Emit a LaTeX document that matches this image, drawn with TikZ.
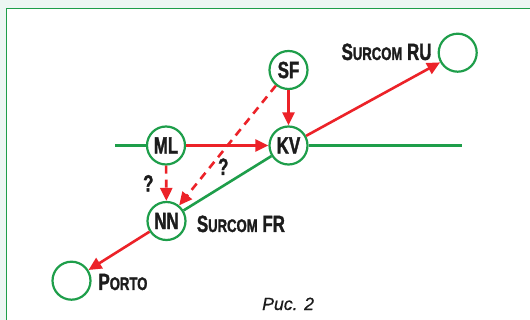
\documentclass[tikz,border=0pt]{standalone}
\usepackage{fontspec}
\usetikzlibrary{arrows.meta}
% condensed heavy face for the station labels
\newfontfamily\labfont[FakeStretch=0.72,FakeBold=1.4]{Liberation Sans}
\newfontfamily\capfont[FakeBold=0.6]{Liberation Sans}
\definecolor{netgreen}{RGB}{30,158,74}
\definecolor{netred}{RGB}{236,34,40}
\definecolor{pagebg}{RGB}{236,246,243}
\definecolor{ink}{RGB}{28,28,28}
% reduced capitals for the small-caps words
\newcommand\smc[1]{{\fontsize{18.2}{18.2}\selectfont #1}}
\begin{document}
\begin{tikzpicture}[x=1pt,y=-1pt,
  labtext/.style={font=\labfont\bfseries\fontsize{23.5}{23.5}\selectfont,text=ink},
  site/.style={circle,draw=netgreen,line width=2.2pt,fill=white,minimum size=38pt,inner sep=0pt,labtext},
  lbl/.style={inner sep=0pt,labtext},
  link/.style={draw=netgreen,line width=2.6pt},
  flow/.style={draw=netred,line width=2.6pt,-{Triangle[length=13pt,width=12pt]}},
  maybe/.style={flow,dash pattern=on 8pt off 6pt},
]
\useasboundingbox (0,0) rectangle (530,320);
% page background and framed panel
\fill[pagebg] (0,0) rectangle (530,320);
\draw[netgreen,line width=1.5pt,fill=white] (6.7,8.7) rectangle (545,335);

% stations
\node[site] (ML) at (166,145.5) {ML};
\node[site] (KV) at (288.5,145.5) {KV};
\node[site] (SF) at (288.5,70) {SF};
\node[site] (NN) at (166.5,221) {NN};
\node[site] (RU) at (457.7,52.7) {};
\node[site] (PO) at (71.5,280.7) {};
\coordinate (west) at (115,145.5);
\coordinate (east) at (461.7,145.5);

% green links
\draw[link] (west) -- (ML);
\draw[link] (KV) -- (east);
\draw[link] (NN) -- (KV);

% red flows
\draw[flow] (ML) -- (KV);
\draw[flow] (SF) -- (KV);
\draw[flow] (KV) -- (RU);
\draw[flow] (NN) -- (PO);
\draw[maybe] (ML) -- (NN);
\draw[maybe] (SF) -- (NN);

% labels
\node[lbl,anchor=base east] (lRU) at (431.7,60) {S\smc{URCOM} RU};
\node[lbl,anchor=base west] (lFR) at (196.7,232) {S\smc{URCOM} FR};
\node[lbl,anchor=base west] (lPO) at (98.3,290) {P\smc{ORTO}};
\node[lbl] (q1) at (148.3,183.3) {?};
\node[lbl] (q2) at (223.3,166.7) {?};
\node[inner sep=0pt,anchor=base west,text=ink,font=\capfont\itshape\fontsize{17.7}{17.7}\selectfont] (cap) at (262,310) {Рис. 2};
\end{tikzpicture}
\end{document}
